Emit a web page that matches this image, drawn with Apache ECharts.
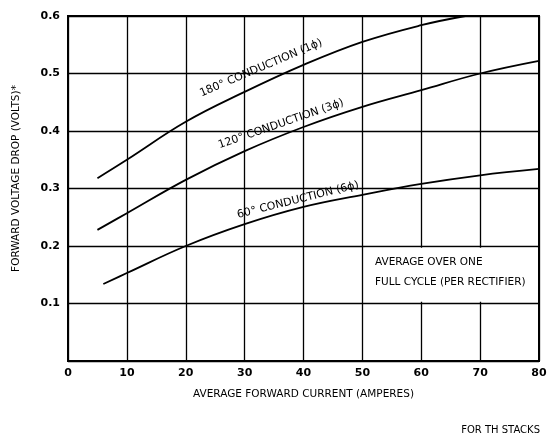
<!DOCTYPE html>
<html><head><meta charset="utf-8">
<script src="https://cdn.jsdelivr.net/npm/echarts@6/dist/echarts.min.js"></script>
<style>html,body{margin:0;padding:0;background:#fff}#c{width:547px;height:439px}</style>
</head><body><div id="c"></div>
<script>
var xTicks = [0, 10, 20, 30, 40, 50, 60, 70, 80];
var yTicks = [0.1, 0.2, 0.3, 0.4, 0.5, 0.6];
var x180 = [5, 10, 20, 30, 40, 50, 60, 67.5];
var y180 = [0.318, 0.35, 0.416, 0.468, 0.515, 0.555, 0.584, 0.6];
var x120 = [5, 10, 20, 30, 40, 50, 60, 70, 80];
var y120 = [0.228, 0.257, 0.315, 0.365, 0.407, 0.442, 0.471, 0.5, 0.522];
var x60 = [6, 10, 20, 30, 40, 50, 60, 70, 80];
var y60 = [0.134, 0.153, 0.2, 0.238, 0.268, 0.289, 0.308, 0.323, 0.334];
var labels = ['180° CONDUCTION (1ϕ)', '120° CONDUCTION (3ϕ)', '60° CONDUCTION (6ϕ)'];
var noteLines = ['AVERAGE OVER ONE', 'FULL CYCLE (PER RECTIFIER)'];

function pairs(xs, ys) { return xs.map(function (x, i) { return [x, ys[i]]; }); }
var FONT = '"DejaVu Sans", sans-serif';
var chart = echarts.init(document.getElementById('c'), null, {renderer: 'canvas'});
function lineSeries(name, xs, ys) {
  return {
    name: name, type: 'line', smooth: 0.4, symbol: 'none',
    data: pairs(xs, ys),
    lineStyle: {color: '#000', width: 1.8}, z: 5
  };
}
var s = [
  lineSeries(labels[0], x180, y180),
  lineSeries(labels[1], x120, y120),
  lineSeries(labels[2], x60, y60)
];
s.push({
  type: 'line', data: [], silent: true,
  markArea: {silent: true, itemStyle: {color: '#fff'}, data: [[{coord: [50.4, 0.103]}, {coord: [79.6, 0.197]}]]},
  z: 3
});
chart.setOption({
  animation: false,
  backgroundColor: '#fff',
  grid: {left: 68, right: 8, top: 16, bottom: 78, containLabel: false, outerBoundsMode: 'none'},
  xAxis: {
    type: 'value', min: 0, max: 80, interval: 10,
    name: 'AVERAGE FORWARD CURRENT (AMPERES)', nameLocation: 'middle', nameGap: 28,
    nameTextStyle: {color: '#000', fontFamily: FONT, fontSize: 10.5},
    axisLine: {lineStyle: {color: '#000', width: 2}},
    axisTick: {show: false},
    axisLabel: {color: '#000', fontFamily: FONT, fontSize: 11, fontWeight: 'bold', margin: 7,
      formatter: function (v) { return xTicks.indexOf(v) >= 0 ? String(v) : ''; }},
    splitLine: {show: true, lineStyle: {color: '#000', width: 1.3}}
  },
  yAxis: {
    type: 'value', min: 0, max: 0.6, interval: 0.1,
    name: 'FORWARD VOLTAGE DROP (VOLTS)*', nameLocation: 'middle', nameGap: 46,
    nameTextStyle: {color: '#000', fontFamily: FONT, fontSize: 10.5, padding: [0, 0, 0, 20]},
    axisLine: {show: true, lineStyle: {color: '#000', width: 2}},
    axisTick: {show: false},
    axisLabel: {color: '#000', fontFamily: FONT, fontSize: 11, fontWeight: 'bold', margin: 8,
      formatter: function (v) {
        var t = Math.round(v * 10) / 10;
        return yTicks.indexOf(t) >= 0 ? t.toFixed(1) : '';
      }},
    splitLine: {show: true, lineStyle: {color: '#000', width: 1.3}}
  },
  series: s,
  graphic: [
    {type: 'rect', shape: {x: 68, y: 16, width: 471, height: 345}, style: {fill: 'none', stroke: '#000', lineWidth: 2}, z: 10, silent: true},
    {type: 'text', x: 261, y: 68, rotation: 23 * Math.PI / 180, style: {text: labels[0], fontFamily: FONT, fontSize: 11, fill: '#000', align: 'center', verticalAlign: 'middle'}, z: 20},
    {type: 'text', x: 281, y: 124, rotation: 19 * Math.PI / 180, style: {text: labels[1], fontFamily: FONT, fontSize: 11, fill: '#000', align: 'center', verticalAlign: 'middle'}, z: 20},
    {type: 'text', x: 298, y: 200, rotation: 14 * Math.PI / 180, style: {text: labels[2], fontFamily: FONT, fontSize: 11, fill: '#000', align: 'center', verticalAlign: 'middle'}, z: 20},
    {type: 'text', x: 375, y: 262, style: {text: noteLines[0], fontFamily: FONT, fontSize: 10.5, fill: '#000', align: 'left', verticalAlign: 'middle'}, z: 20},
    {type: 'text', x: 375, y: 282, style: {text: noteLines[1], fontFamily: FONT, fontSize: 10.5, fill: '#000', align: 'left', verticalAlign: 'middle'}, z: 20},
    {type: 'text', x: 540, y: 430, style: {text: 'FOR TH STACKS', fontFamily: FONT, fontSize: 10, fill: '#000', align: 'right', verticalAlign: 'middle'}, z: 20}
  ]
});
</script></body></html>
